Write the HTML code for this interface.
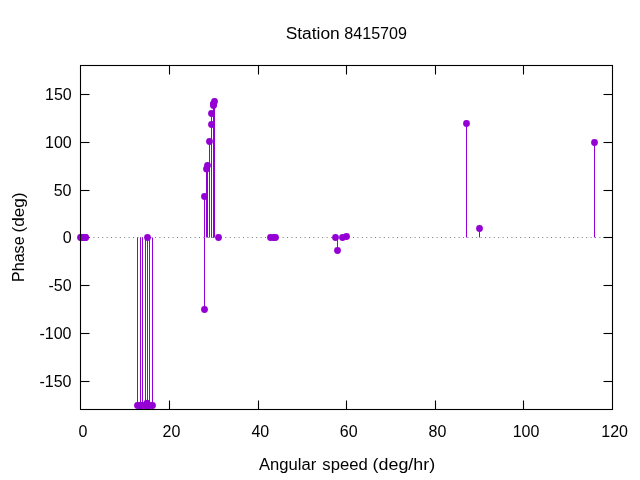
<!DOCTYPE html>
<html lang="en">
<head>
<meta charset="utf-8">
<title>Station 8415709</title>
<style>
html,body{margin:0;padding:0;background:#fff;}
body{width:640px;height:480px;overflow:hidden;}
svg{display:block;}
text{font-family:"Liberation Sans","DejaVu Sans",sans-serif;font-size:16px;fill:#000;}
</style>
</head>
<body>
<svg width="640" height="480" viewBox="0 0 640 480">
<rect x="0" y="0" width="640" height="480" fill="#ffffff"/>
<line x1="80.5" y1="237.5" x2="612.5" y2="237.5" stroke="#000" stroke-opacity="0.52" stroke-width="1" stroke-dasharray="1 3.4" stroke-dashoffset="0.3"/>
<g stroke="#000" stroke-width="1.1" fill="none">
<line x1="169.5" y1="409.5" x2="169.5" y2="400.5"/>
<line x1="169.5" y1="65.5" x2="169.5" y2="74.5"/>
<line x1="258.5" y1="409.5" x2="258.5" y2="400.5"/>
<line x1="258.5" y1="65.5" x2="258.5" y2="74.5"/>
<line x1="346.5" y1="409.5" x2="346.5" y2="400.5"/>
<line x1="346.5" y1="65.5" x2="346.5" y2="74.5"/>
<line x1="435.5" y1="409.5" x2="435.5" y2="400.5"/>
<line x1="435.5" y1="65.5" x2="435.5" y2="74.5"/>
<line x1="523.5" y1="409.5" x2="523.5" y2="400.5"/>
<line x1="523.5" y1="65.5" x2="523.5" y2="74.5"/>
<line x1="80.5" y1="381.5" x2="89.5" y2="381.5"/>
<line x1="612.5" y1="381.5" x2="603.5" y2="381.5"/>
<line x1="80.5" y1="333.5" x2="89.5" y2="333.5"/>
<line x1="612.5" y1="333.5" x2="603.5" y2="333.5"/>
<line x1="80.5" y1="285.5" x2="89.5" y2="285.5"/>
<line x1="612.5" y1="285.5" x2="603.5" y2="285.5"/>
<line x1="80.5" y1="237.5" x2="89.5" y2="237.5"/>
<line x1="612.5" y1="237.5" x2="603.5" y2="237.5"/>
<line x1="80.5" y1="190.5" x2="89.5" y2="190.5"/>
<line x1="612.5" y1="190.5" x2="603.5" y2="190.5"/>
<line x1="80.5" y1="142.5" x2="89.5" y2="142.5"/>
<line x1="612.5" y1="142.5" x2="603.5" y2="142.5"/>
<line x1="80.5" y1="94.5" x2="89.5" y2="94.5"/>
<line x1="612.5" y1="94.5" x2="603.5" y2="94.5"/>
</g>
<g stroke="#9400d3" stroke-width="1" fill="none">
<line x1="137.5" y1="237.5" x2="137.5" y2="405.5"/>
<line x1="140.5" y1="237.5" x2="140.5" y2="405.5"/>
<line x1="140.5" y1="237.5" x2="140.5" y2="405.5"/>
<line x1="142.5" y1="237.5" x2="142.5" y2="405.5"/>
<line x1="145.5" y1="237.5" x2="145.5" y2="405.5"/>
<line x1="147.5" y1="237.5" x2="147.5" y2="405.5"/>
<line x1="147.5" y1="237.5" x2="147.5" y2="403.1"/>
<line x1="149.5" y1="237.5" x2="149.5" y2="405.5"/>
<line x1="152.5" y1="237.5" x2="152.5" y2="405.5"/>
<line x1="204.5" y1="237.5" x2="204.5" y2="309.5"/>
<line x1="204.5" y1="237.5" x2="204.5" y2="196.5"/>
<line x1="206.5" y1="237.5" x2="206.5" y2="168.9"/>
<line x1="207.5" y1="237.5" x2="207.5" y2="165.5"/>
<line x1="209.5" y1="237.5" x2="209.5" y2="141.5"/>
<line x1="211.5" y1="237.5" x2="211.5" y2="124.5"/>
<line x1="211.5" y1="237.5" x2="211.5" y2="113.5"/>
<line x1="213.5" y1="237.5" x2="213.5" y2="105.5"/>
<line x1="213.5" y1="237.5" x2="213.5" y2="104.5"/>
<line x1="213.5" y1="237.5" x2="213.5" y2="103.7"/>
<line x1="214.5" y1="237.5" x2="214.5" y2="101.5"/>
<line x1="337.5" y1="237.5" x2="337.5" y2="250.5"/>
<line x1="346.5" y1="237.5" x2="346.5" y2="236.5"/>
<line x1="466.5" y1="237.5" x2="466.5" y2="123.5"/>
<line x1="479.5" y1="237.5" x2="479.5" y2="228.5"/>
<line x1="594.5" y1="237.5" x2="594.5" y2="142.5"/>
</g>
<g fill="#9400d3" stroke="none">
<circle cx="80.5" cy="237.5" r="3.4"/>
<circle cx="81.5" cy="237.5" r="3.4"/>
<circle cx="83.5" cy="237.5" r="3.4"/>
<circle cx="85.5" cy="237.5" r="3.4"/>
<circle cx="85.5" cy="237.5" r="3.4"/>
<circle cx="137.5" cy="405.5" r="3.4"/>
<circle cx="140.5" cy="405.5" r="3.4"/>
<circle cx="140.5" cy="405.5" r="3.4"/>
<circle cx="142.5" cy="405.5" r="3.4"/>
<circle cx="145.5" cy="405.5" r="3.4"/>
<circle cx="147.5" cy="405.5" r="3.4"/>
<circle cx="147" cy="403.1" r="3.4"/>
<circle cx="147.5" cy="237.5" r="3.4"/>
<circle cx="149.5" cy="405.5" r="3.4"/>
<circle cx="152.5" cy="405.5" r="3.4"/>
<circle cx="204.5" cy="309.5" r="3.4"/>
<circle cx="204.5" cy="196.5" r="3.4"/>
<circle cx="206.5" cy="168.9" r="3.4"/>
<circle cx="207.5" cy="165.5" r="3.4"/>
<circle cx="209.5" cy="141.5" r="3.4"/>
<circle cx="211.5" cy="124.5" r="3.4"/>
<circle cx="211.5" cy="113.5" r="3.4"/>
<circle cx="213.5" cy="105.5" r="3.4"/>
<circle cx="213.5" cy="104.5" r="3.4"/>
<circle cx="213.5" cy="103.7" r="3.4"/>
<circle cx="214.5" cy="101.5" r="3.4"/>
<circle cx="218.5" cy="237.5" r="3.4"/>
<circle cx="270.5" cy="237.5" r="3.4"/>
<circle cx="273.5" cy="237.5" r="3.4"/>
<circle cx="275.5" cy="237.5" r="3.4"/>
<circle cx="335.5" cy="237.5" r="3.4"/>
<circle cx="337.5" cy="250.5" r="3.4"/>
<circle cx="342.5" cy="237.5" r="3.4"/>
<circle cx="346.5" cy="236.5" r="3.4"/>
<circle cx="466.5" cy="123.5" r="3.4"/>
<circle cx="479.5" cy="228.5" r="3.4"/>
<circle cx="594.5" cy="142.5" r="3.4"/>
</g>
<rect x="80.5" y="65.5" width="532" height="344" stroke="#000" stroke-width="1.1" fill="none"/>
<text y="100.3"><tspan x="45.00" textLength="26.70" lengthAdjust="spacingAndGlyphs">150</tspan></text>
<text y="148.3"><tspan x="45.00" textLength="26.70" lengthAdjust="spacingAndGlyphs">100</tspan></text>
<text y="196.3"><tspan x="53.71" textLength="17.80" lengthAdjust="spacingAndGlyphs">50</tspan></text>
<text y="243.3"><tspan x="62.71" textLength="8.91" lengthAdjust="spacingAndGlyphs">0</tspan></text>
<text y="291.3"><tspan x="48.41" textLength="23.12" lengthAdjust="spacingAndGlyphs">-50</tspan></text>
<text y="339.3"><tspan x="39.41" textLength="32.03" lengthAdjust="spacingAndGlyphs">-100</tspan></text>
<text y="387.3"><tspan x="39.41" textLength="32.03" lengthAdjust="spacingAndGlyphs">-150</tspan></text>
<text y="437.4"><tspan x="78.41" textLength="8.91" lengthAdjust="spacingAndGlyphs">0</tspan></text>
<text y="437.4"><tspan x="162.49" textLength="17.80" lengthAdjust="spacingAndGlyphs">20</tspan></text>
<text y="437.4"><tspan x="251.42" textLength="17.80" lengthAdjust="spacingAndGlyphs">40</tspan></text>
<text y="437.4"><tspan x="339.80" textLength="17.80" lengthAdjust="spacingAndGlyphs">60</tspan></text>
<text y="437.4"><tspan x="428.53" textLength="17.80" lengthAdjust="spacingAndGlyphs">80</tspan></text>
<text y="437.4"><tspan x="512.66" textLength="26.70" lengthAdjust="spacingAndGlyphs">100</tspan></text>
<text y="437.4"><tspan x="601.33" textLength="26.70" lengthAdjust="spacingAndGlyphs">120</tspan></text>
<text y="39"><tspan x="285.71" textLength="54.07" lengthAdjust="spacingAndGlyphs">Station</tspan> <tspan x="344.32" textLength="62.64" lengthAdjust="spacingAndGlyphs">8415709</tspan></text>
<text y="470"><tspan x="258.95" textLength="57.23" lengthAdjust="spacingAndGlyphs">Angular</tspan> <tspan x="322.37" textLength="45.34" lengthAdjust="spacingAndGlyphs">speed</tspan> <tspan x="372.63" textLength="62.52" lengthAdjust="spacingAndGlyphs">(deg/hr)</tspan></text>
<text transform="translate(24,281) rotate(-90)"><tspan x="-0.97" textLength="45.57" lengthAdjust="spacingAndGlyphs">Phase</tspan> <tspan x="48.43" textLength="40.00" lengthAdjust="spacingAndGlyphs">(deg)</tspan></text>
</svg>
</body>
</html>
